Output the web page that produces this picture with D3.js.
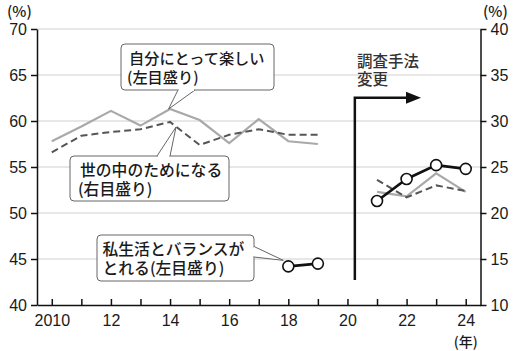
<!DOCTYPE html>
<html>
<head>
    <meta charset="utf-8">
    <title>仕事の満足度</title>
    <script src="https://d3js.org/d3.v7.min.js"></script>
    <style>
        body { margin: 0; background: #ffffff; }
        svg { display: block; }
        .axis text { font-family: "Liberation Sans", Arial, sans-serif; font-size: 16px; fill: #1a1a1a; }
        .axis path, .axis line { stroke: #111; stroke-width: 1.5px; }
        .jp { font-family: "Noto Sans CJK JP", sans-serif; fill: #1a1a1a; font-weight: 500; }
    </style>
</head>
<body>
<div id="chart"></div>
<script>
    // years on the x axis (2020 has no survey)
    const years = [2010, 2011, 2012, 2013, 2014, 2015, 2016, 2017, 2018, 2019, 2020, 2021, 2022, 2023, 2024];
    // 自分にとって楽しい (left scale)
    const tanoshii = [57.8, 59.4, 61.1, 59.5, 61.3, 60.1, 57.6, 60.2, 57.8, 57.5, null, 52.3, 51.8, 54.3, 52.3];
    // 世の中のためになる (right scale)
    const tameni = [26.6, 28.4, 28.8, 29.1, 29.9, 27.4, 28.5, 29.1, 28.5, 28.5, null, 23.6, 21.7, 23.0, 22.4];
    // 私生活とバランスがとれる (left scale)
    const balance = [null, null, null, null, null, null, null, null, 44.2, 44.5, null, 51.3, 53.7, 55.2, 54.8];

    const leftTicks = [40, 45, 50, 55, 60, 65, 70];
    const rightTicks = [10, 15, 20, 25, 30, 35, 40];

    const width = 520, height = 351;
    const margin = { top: 29, right: 40, bottom: 46, left: 37 };

    const svg = d3.select("#chart").append("svg")
        .attr("width", width)
        .attr("height", height);

    const x = d3.scaleLinear()
        .domain([2009.5, 2024.5])
        .range([margin.left, width - margin.right + 0.5]);
    const yL = d3.scaleLinear().domain([40, 70]).range([height - margin.bottom, margin.top]);
    const yR = d3.scaleLinear().domain([10, 40]).range([height - margin.bottom, margin.top]);

    // gridlines
    svg.append("g").selectAll("line")
        .data(leftTicks.slice(1))
        .join("line")
        .attr("x1", x.range()[0]).attr("x2", x.range()[1])
        .attr("y1", d => yL(d)).attr("y2", d => yL(d))
        .attr("stroke", "#cfcfcf").attr("stroke-width", 1);

    // axes
    svg.append("g").attr("class", "axis")
        .attr("transform", `translate(${x.range()[0]},0)`)
        .call(d3.axisLeft(yL).tickValues(leftTicks).tickSize(6).tickSizeOuter(0).tickPadding(4));

    svg.append("g").attr("class", "axis")
        .attr("transform", `translate(${x.range()[1]},0)`)
        .call(d3.axisRight(yR).tickValues(rightTicks).tickSize(6).tickSizeOuter(0).tickPadding(4));

    svg.append("g").attr("class", "axis")
        .attr("transform", `translate(0,${yL.range()[0]})`)
        .call(d3.axisBottom(x).tickValues(years).tickSizeInner(-6).tickSizeOuter(0).tickPadding(10)
            .tickFormat(d => d % 2 ? "" : (d === 2010 ? "2010" : String(d).slice(2))));

    // unit labels
    svg.append("text").attr("class", "jp").attr("x", 7).attr("y", 17)
        .style("font-size", "15px").text("(%)");
    svg.append("text").attr("class", "jp").attr("x", 483).attr("y", 17)
        .style("font-size", "15px").text("(%)");
    svg.append("text").attr("class", "jp").attr("x", x(2024)).attr("y", 347)
        .attr("text-anchor", "middle").style("font-size", "14px").text("(年)");

    const rows = years.map((yr, i) => ({ yr, t: tanoshii[i], m: tameni[i], b: balance[i] }));

    // 自分にとって楽しい
    svg.append("path").datum(rows)
        .attr("fill", "none").attr("stroke", "#a9a9a9").attr("stroke-width", 2.2)
        .attr("d", d3.line().defined(d => d.t != null).x(d => x(d.yr)).y(d => yL(d.t)));

    // 世の中のためになる
    svg.append("path").datum(rows)
        .attr("fill", "none").attr("stroke", "#555").attr("stroke-width", 2)
        .attr("stroke-dasharray", "7,4")
        .attr("d", d3.line().defined(d => d.m != null).x(d => x(d.yr)).y(d => yR(d.m)));

    // 私生活とバランスがとれる
    svg.append("path").datum(rows)
        .attr("fill", "none").attr("stroke", "#111").attr("stroke-width", 2.6)
        .attr("d", d3.line().defined(d => d.b != null).x(d => x(d.yr)).y(d => yL(d.b)));

    // two-line text as one element
    function twoLines(g, x0, y0, lines, size, gap, fill) {
        const t = g.append("text").attr("class", "jp")
            .attr("x", x0).attr("y", y0)
            .style("font-size", size + "px");
        if (fill) t.style("fill", fill);
        lines.forEach((l, i) => {
            t.append("tspan")
                .attr("x", x0 + (l[0] || 0))
                .attr("dy", i ? gap : 0)
                .text(l[1]);
        });
    }

    // 調査手法変更 arrow
    const ax = x(2020.25);
    svg.append("path")
        .attr("d", `M${ax},280 V97.7 H408`)
        .attr("fill", "none").attr("stroke", "#111").attr("stroke-width", 2.5);
    svg.append("path")
        .attr("d", "M406,91.7 L421,97.7 L406,103.7 Z")
        .attr("fill", "#111");
    twoLines(svg, 357, 66.5, [[0, "調査手法"], [0, "変更"]], 15.5, 18.5, "#333");

    // callout boxes
    function callout(box, base, tip, tx, ty, lines, size) {
        const g = svg.append("g");
        g.append("rect")
            .attr("x", box[0]).attr("y", box[1])
            .attr("width", box[2] - box[0]).attr("height", box[3] - box[1])
            .attr("rx", 4)
            .attr("fill", "#fff").attr("stroke", "#666").attr("stroke-width", 1);
        g.append("path")
            .attr("d", `M${base[0]},${base[1]} L${tip[0]},${tip[1]} L${base[2]},${base[3]}`)
            .attr("fill", "#fff").attr("stroke", "#666").attr("stroke-width", 1);
        const vert = base[0] === base[2];
        g.append("line")
            .attr("x1", base[0] + (vert ? 0 : 1)).attr("y1", base[1] + (vert ? 1 : 0))
            .attr("x2", base[2] - (vert ? 0 : 1)).attr("y2", base[3] - (vert ? 1 : 0))
            .attr("stroke", "#fff").attr("stroke-width", 2);
        twoLines(g, tx, ty, lines, size, 19);
    }

    callout([121, 44, 274, 90], [178, 90, 195, 90], [x(2014) - 1.5, yL(61.3)],
        129, 64, [[0, "自分にとって楽しい"], [-2, "(左目盛り)"]], 15.2);
    callout([70, 156, 229, 201], [157, 156, 170, 156], [176, 127],
        80, 176, [[0, "世の中のためになる"], [-2, "(右目盛り)"]], 15.8);
    callout([97, 235, 254, 281], [254, 246.5, 254, 257], [x(2018) - 5, yL(44.2) - 6],
        102.5, 255, [[0, "私生活とバランスが"], [0, "とれる(左目盛り)"]], 15.8);

    // markers
    svg.append("g").selectAll("circle")
        .data(rows.filter(d => d.b != null))
        .join("circle")
        .attr("cx", d => x(d.yr)).attr("cy", d => yL(d.b))
        .attr("r", 5.5)
        .attr("fill", "#fff").attr("stroke", "#111").attr("stroke-width", 1.6);
</script>
</body>
</html>
